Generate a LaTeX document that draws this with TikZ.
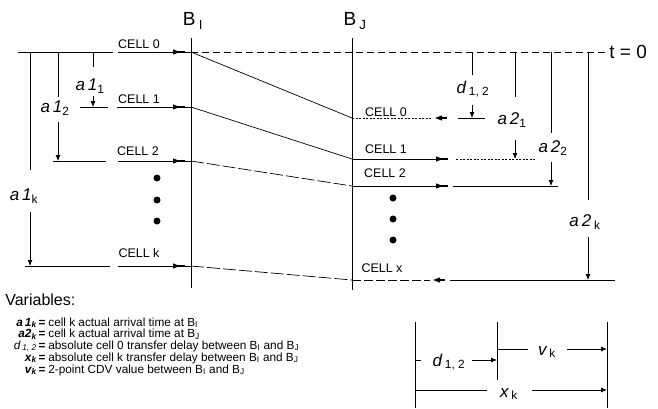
\documentclass[tikz,border=0pt]{standalone}
\usepackage{fontspec}
\setmainfont{Liberation Sans}
\usetikzlibrary{arrows.meta}
\begin{document}
\begin{tikzpicture}[x=1pt,y=-1pt,
  line width=0.7pt,
  celltxt/.style={font=\fontsize{12.5}{12.5}\selectfont, inner sep=0pt},
  dimtxt/.style={font=\fontsize{17}{17}\selectfont\itshape, inner sep=0pt},
  btxt/.style={font=\fontsize{19}{19}\selectfont, inner sep=0pt},
  legtxt/.style={font=\fontsize{11.8}{11.8}\selectfont, inner sep=0pt},
  leglab/.style={font=\fontsize{11.8}{11.8}\selectfont\bfseries\itshape, inner sep=0pt},
  dimarr/.style={-{Latex[length=6pt,width=5pt]}, line width=0.8pt},
  tline/.style={dash pattern=on 7pt off 4pt},
  longdash/.style={dash pattern=on 13pt off 3pt},
  dotline/.style={dash pattern=on 2pt off 1.5pt},
  dot/.style={circle, fill, inner sep=0pt, minimum size=7pt},
  rmark/.pic={\fill (-7,-2.6)--(0,0)--(-7,2.6)--cycle; \fill (-3,-1.2) rectangle (5,1.2);},
  lmark/.pic={\fill (7,-2.6)--(0,0)--(7,2.6)--cycle; \fill (3,-1.2) rectangle (12,1.2);}
]
\useasboundingbox (0,0) rectangle (658,408);

% ---------- key coordinates ----------
\coordinate (BItop) at (191,38);  \coordinate (BIbot) at (191,288);
\coordinate (BJtop) at (352,38);  \coordinate (BJbot) at (352,290);
\coordinate (I0) at (191,52);  \coordinate (I1) at (191,107);
\coordinate (I2) at (191,161); \coordinate (Ik) at (191,266);
\coordinate (J0) at (352,118); \coordinate (J1) at (352,159);
\coordinate (J2) at (352,186); \coordinate (Jk) at (352,280);
\coordinate (T0L) at (18,52);  \coordinate (T0R) at (605,52);

% ---------- B lines ----------
\draw (BItop) -- (BIbot);
\draw (BJtop) -- (BJbot);
\node[btxt] (BI) at (193,21) {B\,\textsubscript{I}};
\node[btxt] (BJ) at (355,21) {B\,\textsubscript{J}};

% ---------- t = 0 line ----------
\draw (T0L) -- (113,52);
\draw (118,52) -- (I0);
\draw[tline] (I0) -- (T0R);
\node[btxt, anchor=west] (t0) at (609,52) {t = 0};

% ---------- cell lines at B_I ----------
\draw (80,107) -- (108,107);  \draw (117,107) -- (I1);
\draw (53,161) -- (106,161);  \draw (118,161) -- (I2);
\draw (25,266) -- (110,266);  \draw (118,266) -- (Ik);
\pic at (180,52) {rmark};
\pic at (180,107) {rmark};
\pic at (180,161) {rmark};
\pic at (180,266) {rmark};
\node[celltxt] (c0I) at (139,44) {CELL 0};
\node[celltxt] (c1I) at (139,99) {CELL 1};
\node[celltxt] (c2I) at (138,151) {CELL 2};
\node[celltxt] (ckI) at (139,253) {CELL k};
\node[dot] (dI1) at (157,178) {};
\node[dot] (dI2) at (157,200) {};
\node[dot] (dI3) at (157,221) {};

% ---------- transfer lines ----------
\draw (I0) -- (J0);
\draw (I1) -- (J1);
\draw[longdash] (I2) -- (J2);
\draw[longdash] (Ik) -- (Jk);

% ---------- cell lines at B_J ----------
\draw[dotline] (J0) -- (432,118);
\pic at (435,118) {lmark};
\draw (458,118) -- (485,118);
\draw (J1) -- (440,159);
\pic at (443,159) {rmark};
\draw[dotline] (456,159) -- (535,159);
\draw (J2) -- (440,186);
\pic at (443,186) {rmark};
\draw (453,186) -- (558,186);
\draw[dash pattern=on 9pt off 3pt] (Jk) -- (430,280);
\pic at (433,280) {lmark};
\draw (450,280) -- (615,280);
\node[celltxt] (c0J) at (386,112) {CELL 0};
\node[celltxt] (c1J) at (386,149) {CELL 1};
\node[celltxt] (c2J) at (385,173) {CELL 2};
\node[celltxt] (ckJ) at (382,268) {CELL x};
\node[dot] (dJ1) at (393,198) {};
\node[dot] (dJ2) at (393,219) {};
\node[dot] (dJ3) at (393,240) {};

% ---------- dimensions at B_I ----------
\draw (93,52) -- (93,67);
\node[dimtxt] (a11) at (90,86) {a\,1\textsubscript{\upshape 1}};
\draw[dimarr] (93,96) -- (93,107);
\draw (58,52) -- (58,97);
\node[dimtxt] (a12) at (55,108) {a\,1\textsubscript{\upshape 2}};
\draw[dimarr] (58,122) -- (58,161);
\draw (30,52) -- (30,170);
\node[dimtxt] (a1k) at (24,196) {a\,1\textsubscript{\upshape k}};
\draw[dimarr] (30,212) -- (30,266);

% ---------- dimensions at B_J ----------
\draw (472,52) -- (472,75);
\node[dimtxt] (d12) at (473,89) {d\,\textsubscript{\upshape 1, 2}};
\draw[dimarr] (472,105) -- (472,118);
\draw (515,52) -- (515,97);
\node[dimtxt] (a21) at (512,120) {a\,2\textsubscript{\upshape 1}};
\draw[dimarr] (515,140) -- (515,159);
\draw (551,52) -- (551,133);
\node[dimtxt] (a22) at (553,148) {a\,2\textsubscript{\upshape 2}};
\draw[dimarr] (551,162) -- (551,186);
\draw (588,52) -- (588,200);
\node[dimtxt] (a2k) at (585,222) {a\,2\,\textsubscript{\upshape k}};
\draw[dimarr] (588,237) -- (588,280);

% ---------- legend ----------
\node[font=\fontsize{16}{16}\selectfont, inner sep=0pt, anchor=west] (var) at (5,300) {Variables:};
\foreach \y/\lab/\txt [count=\i] in {
  322/{a\,1\textsubscript{k}}/{cell k actual arrival time at B\textsubscript{I}},
  333.5/{a2\textsubscript{k}}/{cell k actual arrival time at B\textsubscript{J}},
  345/{\mdseries d\,\textsubscript{1, 2}}/{absolute cell 0 transfer delay between B\textsubscript{I} and B\textsubscript{J}},
  357/{x\textsubscript{k}}/{absolute cell k transfer delay between B\textsubscript{I} and B\textsubscript{J}},
  369/{v\textsubscript{k}}/{2-point CDV value between B\textsubscript{I} and B\textsubscript{J}}} {
  \node[leglab, anchor=base east] (lab\i) at (37,\y+4) {\lab};
  \node[legtxt, anchor=base] (eq\i) at (42,\y+4) {\textbf{=}};
  \node[legtxt, anchor=base west] (txt\i) at (48,\y+4) {\txt};
}

% ---------- bottom right dimension box ----------
\coordinate (BLt) at (415,322); \coordinate (BLb) at (415,408);
\coordinate (BMt) at (497,322); \coordinate (BMb) at (497,380);
\coordinate (BRt) at (607,322); \coordinate (BRb) at (607,408);
\draw (BLt) -- (BLb);
\draw (BMt) -- (BMb);
\draw (BRt) -- (BRb);
\draw (415,360) -- (421,360);
\node[dimtxt] (d12b) at (449,362) {d\,\textsubscript{\upshape 1, 2}};
\draw[dimarr] (472,360) -- (497,360);
\draw (497,349) -- (528,349);
\node[dimtxt] (vk) at (547,352) {v\,\textsubscript{\upshape k}};
\draw[dimarr] (567,349) -- (607,349);
\draw (415,390) -- (487,390);
\node[dimtxt] (xk) at (509,394) {x\,\textsubscript{\upshape k}};
\draw[dimarr] (532,390) -- (607,390);
\end{tikzpicture}
\end{document}
